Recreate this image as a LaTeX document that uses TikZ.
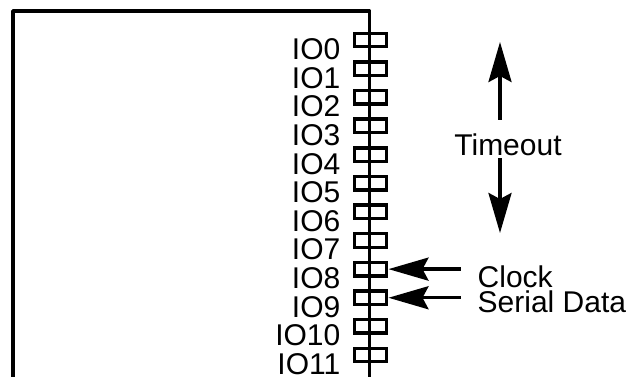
\documentclass[tikz,border=0pt]{standalone}
\usepackage{fontspec}
\setmainfont{Liberation Sans}
\usetikzlibrary{arrows.meta}
\begin{document}
\begin{tikzpicture}[x=1pt,y=-1pt, line width=3.4pt,
  pad/.style={draw, fill=white, rectangle, minimum width=32pt, minimum height=13.5pt, inner sep=0pt, outer sep=0pt},
  lbl/.style={font=\fontsize{30}{30}\selectfont, inner sep=0pt, anchor=base east},
  txt/.style={font=\fontsize{30}{30}\selectfont, inner sep=0pt},
  arr/.style={-{Stealth[length=40pt,width=23pt,inset=6pt]}, line width=3.4pt}]
\useasboundingbox (0,0) rectangle (626,377);
% chip outline
\draw[line join=round] (13,377) -- (13,11) -- (369.5,11) -- (369.5,377);
% pads and labels
\foreach \i in {0,...,11}{
  \node[pad] (p\i) at (370.5,{40+28.64*\i}) {};
  \node[lbl] (l\i) at (342,{59.5+28.64*\i}) {IO\i};
}
\draw (369.5,11) -- (369.5,377);
% clock and data arrows
\path (p8.east) ++(74,0) coordinate (c8);
\path (p9.east) ++(74,0) coordinate (c9);
\draw[arr, shorten >=2pt] (c8) -- (p8.east);
\draw[arr, shorten >=2pt] (c9) -- (p9.east);
\node[txt, anchor=base west] (clk) at (476,287) {Clock};
\node[txt, anchor=base west] (sd) at (476,312) {Serial Data};
% timeout
\node[txt, anchor=base] (to) at (508,155) {Timeout};
\coordinate (ub) at (500,120);
\coordinate (ut) at (500,42);
\coordinate (db) at (500,158);
\coordinate (dt) at (500,233);
\draw[arr] (ub) -- (ut);
\draw[arr] (db) -- (dt);
\end{tikzpicture}
\end{document}
